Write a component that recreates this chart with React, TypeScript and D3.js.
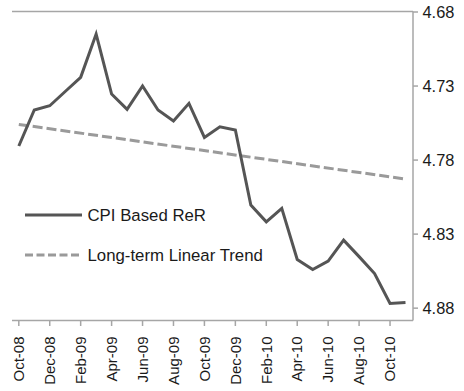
import React from "react";
import * as d3 from "d3";

const months = [
  "Oct-08","Nov-08","Dec-08","Jan-09","Feb-09","Mar-09","Apr-09","May-09","Jun-09","Jul-09","Aug-09","Sep-09",
  "Oct-09","Nov-09","Dec-09","Jan-10","Feb-10","Mar-10","Apr-10","May-10","Jun-10","Jul-10","Aug-10","Sep-10",
  "Oct-10","Nov-10",
];
const cpiReR = [
  4.7705, 4.7462, 4.7433, 4.7337, 4.7241, 4.6949, 4.7354, 4.7457, 4.73, 4.7462, 4.7536, 4.7417,
  4.7647, 4.7575, 4.7597, 4.8104, 4.8217, 4.8126, 4.8471, 4.8539, 4.8482, 4.8341, 4.8452, 4.8566,
  4.8768, 4.8761,
];
const trendMonths = ["Oct-08", "Nov-10"];
const trendValues = [4.7559, 4.7928];
const yTicks = [4.68, 4.73, 4.78, 4.83, 4.88];
const xTickLabels = ["Oct-08","Dec-08","Feb-09","Apr-09","Jun-09","Aug-09","Oct-09","Dec-09","Feb-10","Apr-10","Jun-10","Aug-10","Oct-10"];
const legendItems = ["CPI Based ReR", "Long-term Linear Trend"];

export default function App() {
  const W = 464, H = 391;
  const left = 12, right = 413, top = 11.5, bottom = 320.5;
  const x = d3.scalePoint<string>().domain(months).range([18.8, 405.5]);
  const y = d3.scaleLinear().domain([4.68, 4.888]).range([12, 320]);
  const line = d3.line<number>().x((_, i) => x(months[i])!).y((d) => y(d));
  const trendLine = d3.line<number>().x((_, i) => x(trendMonths[i])!).y((d) => y(d));
  const axisColor = "#a6a6a6";
  const font = "Liberation Sans, Arial, Helvetica, sans-serif";
  return (
    <svg width={W} height={H} style={{ position: "absolute", left: 0, top: 0 }} fontFamily={font}>
      <rect width={W} height={H} fill="#fff" />
      <line x1={left} x2={right} y1={top} y2={top} stroke={axisColor} strokeWidth={1.5} />
      <line x1={right} x2={right} y1={top} y2={bottom} stroke={axisColor} strokeWidth={1.5} />
      <line x1={left} x2={right} y1={bottom} y2={bottom} stroke={axisColor} strokeWidth={1.5} />
      {yTicks.map((t) => (
        <g key={t}>
          <line x1={right} x2={right + 5} y1={y(t)} y2={y(t)} stroke={axisColor} strokeWidth={1.5} />
          <text x={right + 9.5} y={y(t)} dy="0.35em" fontSize={16.4} fill="#1a1a1a">{t.toFixed(2)}</text>
        </g>
      ))}
      {xTickLabels.map((m) => (
        <g key={m} transform={`translate(${x(m)},${bottom})`}>
          <line y1={0} y2={5.5} stroke={axisColor} strokeWidth={1.5} />
          <text transform="rotate(-90)" x={-16} dy="0.35em" textAnchor="end" fontSize={15} fill="#1a1a1a">{m}</text>
        </g>
      ))}
      <path d={trendLine(trendValues)!} fill="none" stroke="#9a9a9a" strokeWidth={3} strokeDasharray="10,4" />
      <path d={line(cpiReR)!} fill="none" stroke="#555" strokeWidth={3} strokeLinejoin="miter" />
      <g>
        <line x1={25} x2={82} y1={215} y2={215} stroke="#555" strokeWidth={3} />
        <text x={87.5} y={215} dy="0.35em" fontSize={16.8} fill="#1a1a1a">{legendItems[0]}</text>
        <line x1={25} x2={82} y1={255} y2={255} stroke="#9a9a9a" strokeWidth={3} strokeDasharray="8,3.5" />
        <text x={87.5} y={255} dy="0.35em" fontSize={16.8} fill="#1a1a1a">{legendItems[1]}</text>
      </g>
    </svg>
  );
}
